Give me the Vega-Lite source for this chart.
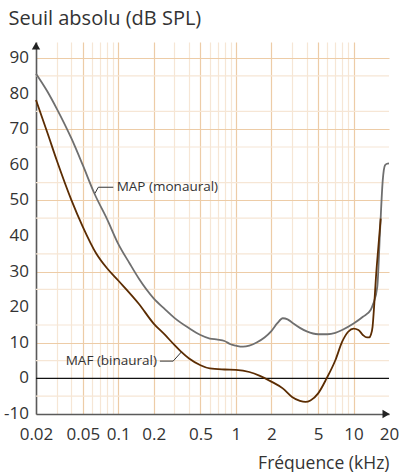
{
  "$schema": "https://vega.github.io/schema/vega-lite/v6.json",
  "width": 353,
  "height": 372,
  "autosize": {"type": "none"},
  "padding": {"left": 36, "top": 42, "right": 13, "bottom": 58},
  "background": "white",
  "config": {
    "view": {"stroke": null},
    "font": "Open Sans",
    "axis": {
      "domainColor": "#5a5a5a",
      "domainWidth": 1.6,
      "ticks": false,
      "labelColor": "#333333",
      "labelFont": "Open Sans",
      "labelFontSize": 17,
      "titleFont": "Open Sans",
      "titleFontSize": 17.5,
      "titleFontWeight": "normal",
      "titleColor": "#333333",
      "gridWidth": 1.2
    }
  },
  "datasets": {
    "curves": [
      {"series": "MAP", "f": 0.02, "db": 85.6},
      {"series": "MAP", "f": 0.025, "db": 80.6},
      {"series": "MAP", "f": 0.03, "db": 75.8},
      {"series": "MAP", "f": 0.04, "db": 67.4},
      {"series": "MAP", "f": 0.05, "db": 59.9},
      {"series": "MAP", "f": 0.063, "db": 51.8},
      {"series": "MAP", "f": 0.08, "db": 44.9},
      {"series": "MAP", "f": 0.1, "db": 37.8},
      {"series": "MAP", "f": 0.125, "db": 32.3},
      {"series": "MAP", "f": 0.15, "db": 28.0},
      {"series": "MAP", "f": 0.2, "db": 22.5},
      {"series": "MAP", "f": 0.25, "db": 19.4},
      {"series": "MAP", "f": 0.3, "db": 17.0},
      {"series": "MAP", "f": 0.4, "db": 14.1},
      {"series": "MAP", "f": 0.5, "db": 12.2},
      {"series": "MAP", "f": 0.6, "db": 11.2},
      {"series": "MAP", "f": 0.7, "db": 10.9},
      {"series": "MAP", "f": 0.8, "db": 10.5},
      {"series": "MAP", "f": 0.9, "db": 9.6},
      {"series": "MAP", "f": 1.0, "db": 9.2},
      {"series": "MAP", "f": 1.15, "db": 8.9},
      {"series": "MAP", "f": 1.3, "db": 9.2},
      {"series": "MAP", "f": 1.5, "db": 10.1},
      {"series": "MAP", "f": 1.75, "db": 11.5},
      {"series": "MAP", "f": 2.0, "db": 13.3},
      {"series": "MAP", "f": 2.25, "db": 15.5},
      {"series": "MAP", "f": 2.5, "db": 16.9},
      {"series": "MAP", "f": 2.75, "db": 16.6},
      {"series": "MAP", "f": 3.0, "db": 15.7},
      {"series": "MAP", "f": 3.5, "db": 14.2},
      {"series": "MAP", "f": 4.0, "db": 13.2},
      {"series": "MAP", "f": 5.0, "db": 12.4},
      {"series": "MAP", "f": 6.0, "db": 12.4},
      {"series": "MAP", "f": 7.0, "db": 12.8},
      {"series": "MAP", "f": 8.0, "db": 13.6},
      {"series": "MAP", "f": 10.0, "db": 15.4},
      {"series": "MAP", "f": 12.0, "db": 17.3},
      {"series": "MAP", "f": 14.0, "db": 19.3},
      {"series": "MAP", "f": 14.7, "db": 21.0},
      {"series": "MAP", "f": 15.9, "db": 25.7},
      {"series": "MAP", "f": 16.8, "db": 41.7},
      {"series": "MAP", "f": 17.7, "db": 55.7},
      {"series": "MAP", "f": 18.5, "db": 59.9},
      {"series": "MAP", "f": 19.2, "db": 60.3},
      {"series": "MAP", "f": 20, "db": 60.4},
      {"series": "MAF", "f": 0.02, "db": 78.2},
      {"series": "MAF", "f": 0.025, "db": 69.0},
      {"series": "MAF", "f": 0.03, "db": 61.3},
      {"series": "MAF", "f": 0.04, "db": 50.1},
      {"series": "MAF", "f": 0.05, "db": 42.6},
      {"series": "MAF", "f": 0.065, "db": 35.1},
      {"series": "MAF", "f": 0.08, "db": 31.0},
      {"series": "MAF", "f": 0.1, "db": 27.5},
      {"series": "MAF", "f": 0.15, "db": 20.9},
      {"series": "MAF", "f": 0.2, "db": 15.4},
      {"series": "MAF", "f": 0.25, "db": 12.2},
      {"series": "MAF", "f": 0.3, "db": 9.4},
      {"series": "MAF", "f": 0.34, "db": 7.6},
      {"series": "MAF", "f": 0.4, "db": 5.6},
      {"series": "MAF", "f": 0.5, "db": 3.7},
      {"series": "MAF", "f": 0.6, "db": 2.8},
      {"series": "MAF", "f": 0.8, "db": 2.5},
      {"series": "MAF", "f": 1.0, "db": 2.4},
      {"series": "MAF", "f": 1.3, "db": 1.8},
      {"series": "MAF", "f": 1.6, "db": 0.7},
      {"series": "MAF", "f": 2.0, "db": -0.9},
      {"series": "MAF", "f": 2.5, "db": -2.8},
      {"series": "MAF", "f": 3.0, "db": -5.2},
      {"series": "MAF", "f": 3.5, "db": -6.3},
      {"series": "MAF", "f": 3.9, "db": -6.6},
      {"series": "MAF", "f": 4.3, "db": -6.2},
      {"series": "MAF", "f": 5.0, "db": -4.2},
      {"series": "MAF", "f": 5.9, "db": 0.0},
      {"series": "MAF", "f": 7.0, "db": 5.1},
      {"series": "MAF", "f": 8.0, "db": 10.3},
      {"series": "MAF", "f": 9.0, "db": 13.1},
      {"series": "MAF", "f": 10.0, "db": 14.0},
      {"series": "MAF", "f": 11.0, "db": 13.6},
      {"series": "MAF", "f": 12.0, "db": 12.2},
      {"series": "MAF", "f": 13.0, "db": 11.5},
      {"series": "MAF", "f": 13.6, "db": 11.5},
      {"series": "MAF", "f": 14.0, "db": 12.2},
      {"series": "MAF", "f": 14.5, "db": 14.5},
      {"series": "MAF", "f": 15.0, "db": 21.0},
      {"series": "MAF", "f": 15.5, "db": 28.5},
      {"series": "MAF", "f": 16.2, "db": 36.5},
      {"series": "MAF", "f": 17.0, "db": 44.9}
    ],
    "leaders": [
      {"lead": "MAP", "f": 0.0634, "db": 52.0},
      {"lead": "MAP", "f": 0.0677, "db": 53.7},
      {"lead": "MAP", "f": 0.0908, "db": 53.7},
      {"lead": "MAF", "f": 0.226, "db": 4.86},
      {"lead": "MAF", "f": 0.293, "db": 4.86},
      {"lead": "MAF", "f": 0.345, "db": 7.47}
    ],
    "minorGrid": [
      {"db": -5}, {"db": 5}, {"db": 15}, {"db": 25}, {"db": 35}, {"db": 45},
      {"db": 55}, {"db": 65}, {"db": 75}, {"db": 85}
    ],
    "yLabels": [
      {"db": -10, "label": "-10"}, {"db": 0, "label": "0"}, {"db": 10, "label": "10"},
      {"db": 20, "label": "20"}, {"db": 30, "label": "30"}, {"db": 40, "label": "40"},
      {"db": 50, "label": "50"}, {"db": 60, "label": "60"}, {"db": 70, "label": "70"},
      {"db": 80, "label": "80"}, {"db": 90, "label": "90"}
    ],
    "one": [{}]
  },
  "layer": [
    {
      "data": {"name": "minorGrid"},
      "mark": {"type": "rule", "color": "#f6e6d5", "strokeWidth": 1.2},
      "encoding": {
        "y": {
          "field": "db",
          "type": "quantitative",
          "title": "Seuil absolu (dB SPL)",
          "scale": {"domain": [-10, 94.5], "nice": false, "zero": false},
          "axis": {
            "values": [-10, 0, 10, 20, 30, 40, 50, 60, 70, 80, 90],
            "labels": false,
            "grid": true,
            "gridColor": "#edcca7",
            "titleAngle": 0,
            "titleAlign": "left",
            "titleBaseline": "middle",
            "titleFontSize": 20,
            "titleX": -28,
            "titleY": -24
          }
        }
      }
    },
    {
      "data": {"name": "one"},
      "mark": {"type": "rule", "color": "#111111", "strokeWidth": 1.2},
      "encoding": {
        "y": {"datum": 0, "type": "quantitative"}
      }
    },
    {
      "data": {"name": "curves"},
      "mark": {"type": "line", "interpolate": "monotone", "strokeWidth": 1.8},
      "encoding": {
        "x": {
          "field": "f",
          "type": "quantitative",
          "title": "Fréquence (kHz)",
          "scale": {"type": "log", "domain": [0.02, 20], "nice": false},
          "axis": {
            "values": [0.02, 0.03, 0.04, 0.05, 0.06, 0.07, 0.08, 0.09, 0.1, 0.2, 0.3, 0.4, 0.5, 0.6, 0.7, 0.8, 0.9, 1, 2, 3, 4, 5, 6, 7, 8, 9, 10, 20],
            "labelExpr": "indexof([0.02,0.05,0.1,0.2,0.5,1,2,5,10,20], datum.value) >= 0 ? toString(datum.value) : ''",
            "labelPadding": 12,
            "labelFlush": false,
            "labelOverlap": false,
            "grid": true,
            "gridColor": {"condition": {"test": "indexof([0.05,0.1,0.2,0.5,1,2,5,10], datum.value) >= 0", "value": "#edcca7"}, "value": "#f6e6d5"},
            "gridOpacity": {"condition": {"test": "datum.value >= 20", "value": 0}, "value": 1},
            "titleAnchor": "end",
            "titleAlign": "right",
            "titleX": 353,
            "titleY": 49,
            "titleBaseline": "middle"
          }
        },
        "y": {"field": "db", "type": "quantitative"},
        "color": {
          "field": "series",
          "type": "nominal",
          "scale": {"domain": ["MAP", "MAF"], "range": ["#6f6f6f", "#5b2c02"]},
          "legend": null
        }
      }
    },
    {
      "data": {"name": "leaders"},
      "mark": {"type": "line", "color": "#333333", "strokeWidth": 1},
      "encoding": {
        "x": {"field": "f", "type": "quantitative"},
        "y": {"field": "db", "type": "quantitative"},
        "detail": {"field": "lead"}
      }
    },
    {
      "data": {"name": "yLabels"},
      "mark": {"type": "text", "align": "right", "baseline": "middle", "dx": -7, "fontSize": 17, "color": "#333333"},
      "encoding": {
        "x": {"datum": 0.02, "type": "quantitative"},
        "y": {"field": "db", "type": "quantitative"},
        "text": {"field": "label"}
      }
    },
    {
      "data": {"name": "one"},
      "mark": {"type": "text", "align": "left", "baseline": "middle", "fontSize": 13.5, "color": "#333333"},
      "encoding": {
        "x": {"datum": 0.097, "type": "quantitative"},
        "y": {"datum": 53.7, "type": "quantitative"},
        "text": {"value": "MAP (monaural)"}
      }
    },
    {
      "data": {"name": "one"},
      "mark": {"type": "text", "align": "right", "baseline": "middle", "fontSize": 13.5, "color": "#333333"},
      "encoding": {
        "x": {"datum": 0.2135, "type": "quantitative"},
        "y": {"datum": 4.86, "type": "quantitative"},
        "text": {"value": "MAF (binaural)"}
      }
    },
    {
      "data": {"name": "one"},
      "mark": {"type": "point", "shape": "triangle-up", "filled": true, "size": 70, "color": "#222222", "opacity": 1},
      "encoding": {
        "x": {"datum": 0.02, "type": "quantitative"},
        "y": {"datum": 93.4, "type": "quantitative"}
      }
    },
    {
      "data": {"name": "one"},
      "mark": {"type": "point", "shape": "triangle-right", "filled": true, "size": 70, "color": "#222222", "opacity": 1},
      "encoding": {
        "x": {"datum": 18.9, "type": "quantitative"},
        "y": {"datum": -10, "type": "quantitative"}
      }
    }
  ]
}
